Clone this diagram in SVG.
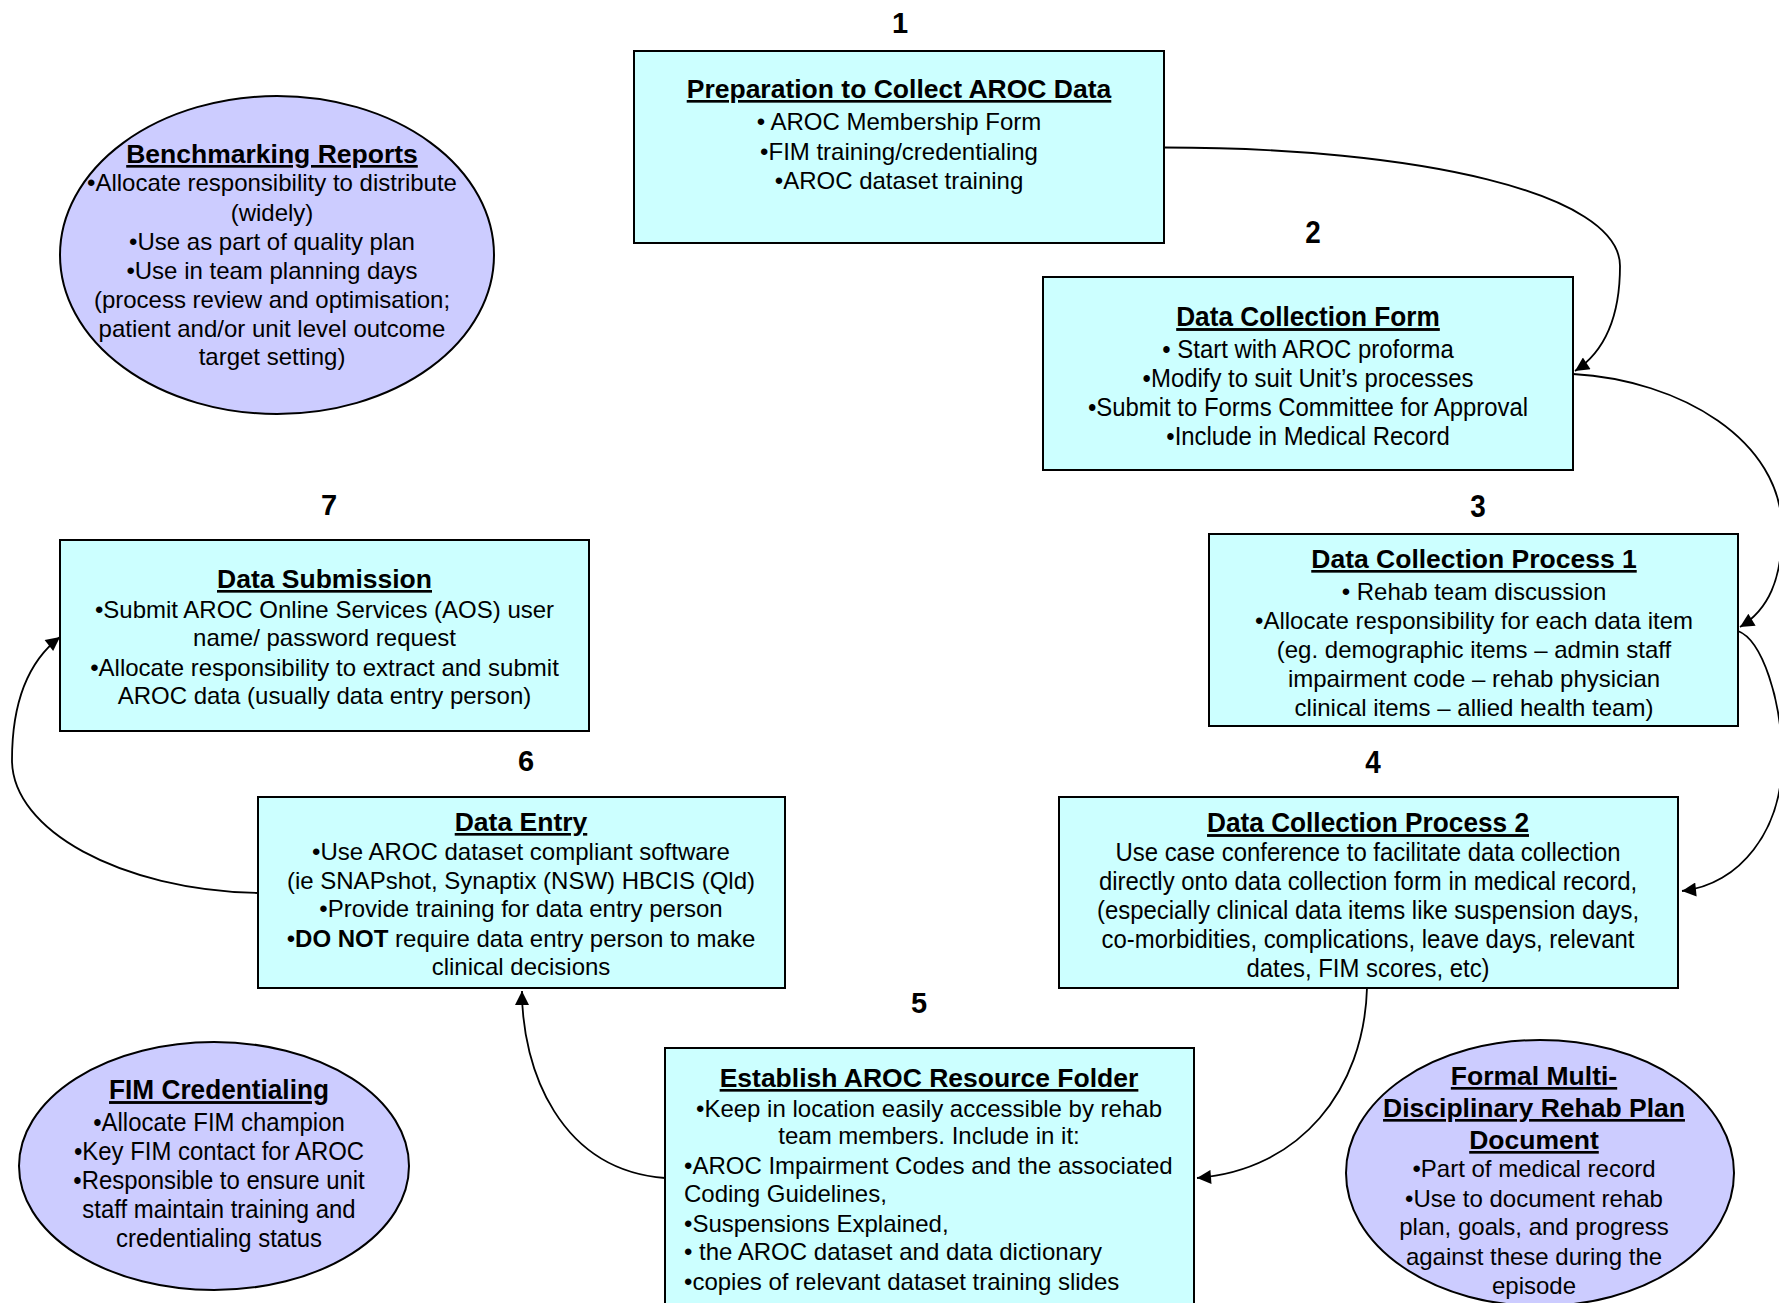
<svg xmlns="http://www.w3.org/2000/svg" width="1779" height="1303" viewBox="0 0 1779 1303">
<style>
.box{fill:#CCFFFF;stroke:#000;stroke-width:2}
.ell{fill:#CCCCFF;stroke:#000;stroke-width:2}
text{font-family:"Liberation Sans",Arial,sans-serif;fill:#000}
.t{font-size:26.5px;font-weight:bold;text-anchor:middle;text-decoration:underline}
.b{font-size:24px;text-anchor:middle}
.bl{font-size:24px;text-anchor:start}
.num{font-size:29px;font-weight:bold;text-anchor:middle}
.nt{font-size:28.5px;font-weight:bold;text-anchor:middle;text-decoration:underline}
.nb{font-size:26px;text-anchor:middle}
.nn{font-size:32px;font-weight:bold;text-anchor:middle}
.conn{fill:none;stroke:#000;stroke-width:1.8}
</style>
<defs>
<marker id="arr" viewBox="0 0 10 10" refX="10" refY="5" markerWidth="17" markerHeight="14" markerUnits="userSpaceOnUse" orient="auto">
<path d="M0,0 L10,5 L0,10 z" fill="#000"/>
</marker>
</defs>
<rect width="1779" height="1303" fill="#fff"/>

<g id="connectors">
<path class="conn" marker-end="url(#arr)" d="M1164,147.5 C1418,147.5 1620,193 1620,266 C1620,318 1604,352 1575,371"/>
<path class="conn" marker-end="url(#arr)" d="M1573,374 C1680,380 1782,440 1782,530 C1782,580 1768,610 1740,627"/>
<path class="conn" marker-end="url(#arr)" d="M1738,631 C1762,640 1782,700 1782,760 C1782,830 1740,885 1682,891"/>
<path class="conn" marker-end="url(#arr)" d="M1367,988 C1364,1090 1300,1170 1197,1178"/>
<path class="conn" marker-end="url(#arr)" d="M665,1178 C560,1170 522,1070 522,991"/>
<path class="conn" marker-end="url(#arr)" d="M258,893 C120,890 12,830 12,760 C12,700 30,660 60,637"/>
</g>

<g id="node1">
<text class="num" x="900" y="33">1</text>
<rect class="box" x="634" y="51" width="530" height="192"/>
<text class="t" x="899" y="98">Preparation to Collect AROC Data</text>
<text class="b" x="899" y="130">• AROC Membership Form</text>
<text class="b" x="899" y="159.5">•FIM training/credentialing</text>
<text class="b" x="899" y="189">•AROC dataset training</text>
</g>

<g id="node2">
<g transform="translate(1313,0) scale(0.87,1)"><text class="nn" x="0" y="243">2</text></g>
<rect class="box" x="1043" y="277" width="530" height="193"/>
<g transform="translate(1308,0) scale(0.92,1)">
<text class="nt" x="0" y="326">Data Collection Form</text>
<text class="nb" x="0" y="358">• Start with AROC proforma</text>
<text class="nb" x="0" y="387">•Modify to suit Unit’s processes</text>
<text class="nb" x="0" y="416">•Submit to Forms Committee for Approval</text>
<text class="nb" x="0" y="445">•Include in Medical Record</text>
</g>
</g>

<g id="node3">
<g transform="translate(1478,0) scale(0.87,1)"><text class="nn" x="0" y="517">3</text></g>
<rect class="box" x="1209" y="534" width="529" height="192"/>
<text class="t" x="1474" y="568">Data Collection Process 1</text>
<text class="b" x="1474" y="600">• Rehab team discussion</text>
<text class="b" x="1474" y="629">•Allocate responsibility for each data item</text>
<text class="b" x="1474" y="658">(eg. demographic items – admin staff</text>
<text class="b" x="1474" y="687">impairment code – rehab physician</text>
<text class="b" x="1474" y="716">clinical items – allied health team)</text>
</g>

<g id="node4">
<g transform="translate(1373,0) scale(0.87,1)"><text class="nn" x="0" y="773">4</text></g>
<rect class="box" x="1059" y="797" width="619" height="191"/>
<g transform="translate(1368,0) scale(0.92,1)">
<text class="nt" x="0" y="832">Data Collection Process 2</text>
<text class="nb" x="0" y="861">Use case conference to facilitate data collection</text>
<text class="nb" x="0" y="890">directly onto data collection form in medical record,</text>
<text class="nb" x="0" y="919">(especially clinical data items like suspension days,</text>
<text class="nb" x="0" y="948">co-morbidities, complications, leave days, relevant</text>
<text class="nb" x="0" y="977">dates, FIM scores, etc)</text>
</g>
</g>

<g id="node5">
<text class="num" x="919" y="1013">5</text>
<rect class="box" x="665" y="1048" width="529" height="280"/>
<text class="t" x="929" y="1087">Establish AROC Resource Folder</text>
<text class="b" x="929" y="1117">•Keep in location easily accessible by rehab</text>
<text class="b" x="929" y="1144">team members. Include in it:</text>
<text class="bl" x="684" y="1174">•AROC Impairment Codes and the associated</text>
<text class="bl" x="684" y="1202">Coding Guidelines,</text>
<text class="bl" x="684" y="1232">•Suspensions Explained,</text>
<text class="bl" x="684" y="1260">• the AROC dataset and data dictionary</text>
<text class="bl" x="684" y="1290">•copies of relevant dataset training slides</text>
</g>

<g id="node6">
<text class="num" x="526" y="771">6</text>
<rect class="box" x="258" y="797" width="527" height="191"/>
<text class="t" x="521" y="831">Data Entry</text>
<text class="b" x="521" y="860">•Use AROC dataset compliant software</text>
<text class="b" x="521" y="889">(ie SNAPshot, Synaptix (NSW) HBCIS (Qld)</text>
<text class="b" x="521" y="917">•Provide training for data entry person</text>
<text class="b" x="521" y="947">•<tspan font-weight="bold">DO NOT</tspan> require data entry person to make</text>
<text class="b" x="521" y="975">clinical decisions</text>
</g>

<g id="node7">
<text class="num" x="329" y="515">7</text>
<rect class="box" x="60" y="540" width="529" height="191"/>
<text class="t" x="324.5" y="588">Data Submission</text>
<text class="b" x="324.5" y="618">•Submit AROC Online Services (AOS) user</text>
<text class="b" x="324.5" y="646">name/ password request</text>
<text class="b" x="324.5" y="676">•Allocate responsibility to extract and submit</text>
<text class="b" x="324.5" y="704">AROC data (usually data entry person)</text>
</g>

<g id="benchmarking">
<ellipse class="ell" cx="277" cy="255" rx="217" ry="159"/>
<text class="t" x="272" y="163">Benchmarking Reports</text>
<text class="b" x="272" y="191">•Allocate responsibility to distribute</text>
<text class="b" x="272" y="221">(widely)</text>
<text class="b" x="272" y="250">•Use as part of quality plan</text>
<text class="b" x="272" y="279">•Use in team planning days</text>
<text class="b" x="272" y="308">(process review and optimisation;</text>
<text class="b" x="272" y="336.5">patient and/or unit level outcome</text>
<text class="b" x="272" y="365">target setting)</text>
</g>

<g id="fim">
<ellipse class="ell" cx="214" cy="1166" rx="195" ry="124"/>
<g transform="translate(219,0) scale(0.92,1)">
<text class="nt" x="0" y="1099">FIM Credentialing</text>
<text class="nb" x="0" y="1131">•Allocate FIM champion</text>
<text class="nb" x="0" y="1160">•Key FIM contact for AROC</text>
<text class="nb" x="0" y="1189">•Responsible to ensure unit</text>
<text class="nb" x="0" y="1218">staff maintain training and</text>
<text class="nb" x="0" y="1247">credentialing status</text>
</g>
</g>

<g id="formal">
<ellipse class="ell" cx="1540" cy="1173" rx="194" ry="133"/>
<text class="t" x="1534" y="1085">Formal Multi-</text>
<text class="t" x="1534" y="1117">Disciplinary Rehab Plan</text>
<text class="t" x="1534" y="1149">Document</text>
<text class="b" x="1534" y="1177">•Part of medical record</text>
<text class="b" x="1534" y="1207">•Use to document rehab</text>
<text class="b" x="1534" y="1235">plan, goals, and progress</text>
<text class="b" x="1534" y="1265">against these during the</text>
<text class="b" x="1534" y="1294">episode</text>
</g>
</svg>
